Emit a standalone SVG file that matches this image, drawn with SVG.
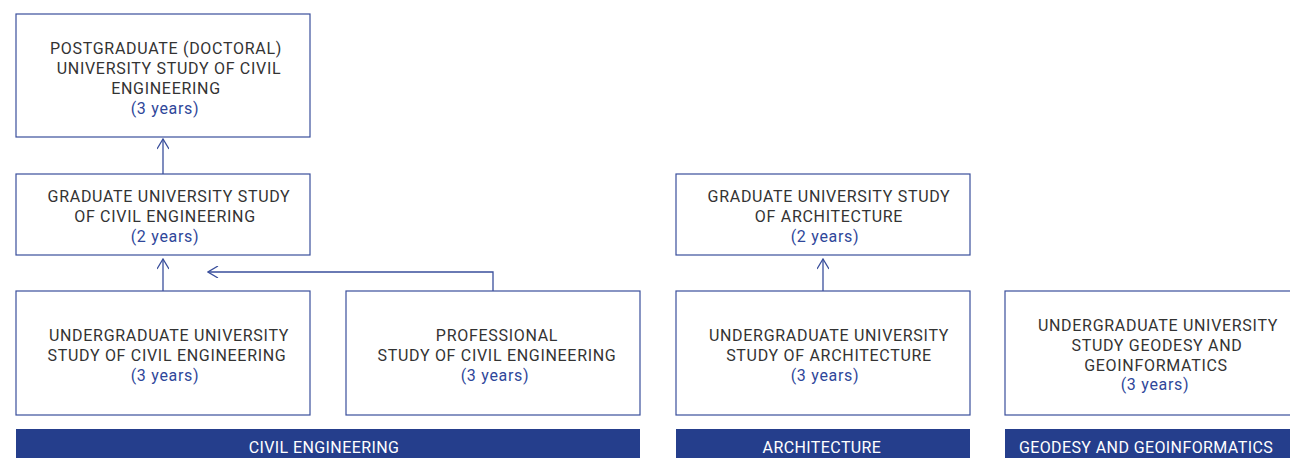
<svg xmlns="http://www.w3.org/2000/svg" width="1290" height="458" viewBox="0 0 1290 458">
<defs>
<style>
.box{fill:#fff;stroke:#3a4f9c;stroke-width:1.2}
.t{font-family:Roboto,"Liberation Sans",sans-serif;font-size:16px;letter-spacing:0.7px;fill:#333;text-anchor:middle}
.y{fill:#2f479a}
.bar{fill:#253e8c}
.bt{font-family:Roboto,"Liberation Sans",sans-serif;font-size:16px;letter-spacing:0.4px;fill:#fff;text-anchor:middle}
.c{fill:none;stroke:#3a4f9c;stroke-width:1.3}
</style>
<marker id="ah" viewBox="0 0 12 12" refX="11" refY="6" markerWidth="12" markerHeight="12" markerUnits="userSpaceOnUse" orient="auto">
<path d="M1,0 L11,6 L1,12" fill="none" stroke="#3a4f9c" stroke-width="1.3"/>
</marker>
</defs>
<rect width="1290" height="458" fill="#fff"/>
<g id="connectors">
<path class="c" d="M163,174 V139" marker-end="url(#ah)"/>
<path class="c" d="M163,291 V259" marker-end="url(#ah)"/>
<path class="c" d="M493,291 V272 H208" marker-end="url(#ah)"/>
<path class="c" d="M823,291 V259" marker-end="url(#ah)"/>
</g>
<g id="postgrad">
<rect class="box" x="16" y="14" width="294" height="123"/>
<text class="t" x="166" y="54">POSTGRADUATE (DOCTORAL)</text>
<text class="t" x="169" y="74">UNIVERSITY STUDY OF CIVIL</text>
<text class="t" x="166" y="94">ENGINEERING</text>
<text class="t y" x="165" y="114">(3 years)</text>
</g>
<g id="grad-ce">
<rect class="box" x="16" y="174" width="294" height="81"/>
<text class="t" x="169" y="202">GRADUATE UNIVERSITY STUDY</text>
<text class="t" x="165" y="222">OF CIVIL ENGINEERING</text>
<text class="t y" x="165" y="242">(2 years)</text>
</g>
<g id="undergrad-ce">
<rect class="box" x="16" y="291" width="294" height="124"/>
<text class="t" x="169" y="341">UNDERGRADUATE UNIVERSITY</text>
<text class="t" x="167" y="361">STUDY OF CIVIL ENGINEERING</text>
<text class="t y" x="165" y="381">(3 years)</text>
</g>
<g id="professional-ce">
<rect class="box" x="346" y="291" width="294" height="124"/>
<text class="t" x="497" y="341">PROFESSIONAL</text>
<text class="t" x="497" y="361">STUDY OF CIVIL ENGINEERING</text>
<text class="t y" x="495" y="381">(3 years)</text>
</g>
<g id="grad-arch">
<rect class="box" x="676" y="174" width="294" height="81"/>
<text class="t" x="829" y="202">GRADUATE UNIVERSITY STUDY</text>
<text class="t" x="829" y="222">OF ARCHITECTURE</text>
<text class="t y" x="825" y="242">(2 years)</text>
</g>
<g id="undergrad-arch">
<rect class="box" x="676" y="291" width="294" height="124"/>
<text class="t" x="829" y="341">UNDERGRADUATE UNIVERSITY</text>
<text class="t" x="829" y="361">STUDY OF ARCHITECTURE</text>
<text class="t y" x="825" y="381">(3 years)</text>
</g>
<g id="undergrad-geo">
<rect class="box" x="1005" y="291" width="296" height="124"/>
<text class="t" x="1158" y="331">UNDERGRADUATE UNIVERSITY</text>
<text class="t" x="1157" y="351">STUDY GEODESY AND</text>
<text class="t" x="1156" y="371">GEOINFORMATICS</text>
<text class="t y" x="1155" y="390">(3 years)</text>
</g>
<g id="bar-ce">
<rect class="bar" x="16" y="429" width="624" height="29"/>
<text class="bt" x="324" y="453">CIVIL ENGINEERING</text>
</g>
<g id="bar-arch">
<rect class="bar" x="676" y="429" width="294" height="29"/>
<text class="bt" x="822" y="453">ARCHITECTURE</text>
</g>
<g id="bar-geo">
<rect class="bar" x="1005" y="429" width="290" height="29"/>
<text class="bt" x="1146" y="453">GEODESY AND GEOINFORMATICS</text>
</g>
</svg>
